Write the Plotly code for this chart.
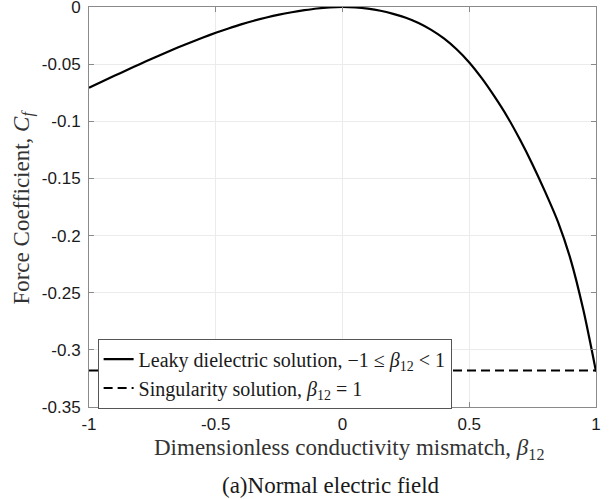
import plotly.graph_objects as go

# Leaky dielectric solution
beta = [-1.0, -0.95, -0.9, -0.85, -0.8, -0.75, -0.7, -0.65, -0.6, -0.55,
        -0.5, -0.45, -0.4, -0.35, -0.3, -0.25, -0.2, -0.15, -0.1, -0.05,
        0.0, 0.05, 0.1, 0.15, 0.2, 0.25, 0.3, 0.35, 0.4, 0.45,
        0.5, 0.55, 0.6, 0.65, 0.7, 0.75, 0.8, 0.85, 0.9, 0.95, 1.0]
cf = [-0.0706, -0.0654, -0.0602, -0.0551, -0.0500, -0.0451, -0.0402, -0.0355,
      -0.0310, -0.0267, -0.0226, -0.0188, -0.0152, -0.0120, -0.0092, -0.0067,
      -0.0046, -0.0028, -0.0013, -0.0004,
      0.0, -0.0004, -0.0015, -0.0033, -0.0060, -0.0094, -0.0140, -0.0200,
      -0.0275, -0.0370, -0.0485, -0.0625, -0.0785, -0.0960, -0.1160, -0.1380,
      -0.1620, -0.1880, -0.2210, -0.2650, -0.3190]

# Singularity solution
sing_beta = [-1.0, 1.0]
sing_cf = [-0.318, -0.318]

xtick_vals = [-1, -0.5, 0, 0.5, 1]
xtick_text = ["-1", "-0.5", "0", "0.5", "1"]
ytick_vals = [0, -0.05, -0.1, -0.15, -0.2, -0.25, -0.3, -0.35]
ytick_text = ["0", "-0.05", "-0.1", "-0.15", "-0.2", "-0.25", "-0.3", "-0.35"]

SERIF = "Liberation Serif"
SANS = "Liberation Sans, Arial, Helvetica"

fig = go.Figure()
fig.add_trace(go.Scatter(
    x=sing_beta, y=sing_cf, mode="lines",
    line=dict(color="black", width=2, dash="9px,5px"),
    name="Singularity solution, <i>β</i><sub>12</sub> = 1",
))
fig.add_trace(go.Scatter(
    x=beta, y=cf, mode="lines",
    line=dict(color="black", width=2.2, shape="spline", smoothing=0.8),
    name="Leaky dielectric solution, −1 ≤ <i>β</i><sub>12</sub> &lt; 1",
))

axis_common = dict(
    showline=True, linecolor="#8a8a8a", linewidth=1, mirror="ticks",
    ticks="inside", ticklen=5, tickcolor="#8a8a8a",
    showgrid=True, gridcolor="#ebebeb", gridwidth=1,
    zeroline=False, automargin=False, ticklabeloverflow="allow",
    tickfont=dict(family=SANS, size=17, color="#1a1a1a"),
)

fig.update_layout(
    width=615, height=499,
    margin=dict(l=89, r=19, t=7, b=92),
    paper_bgcolor="white", plot_bgcolor="white",
    showlegend=True,
    legend=dict(
        x=0.017, y=0.171, xanchor="left", yanchor="top",
        bgcolor="white", bordercolor="#555555", borderwidth=1,
        font=dict(family=SERIF, size=20, color="#1a1a1a"),
        traceorder="reversed",
        tracegroupgap=0,
    ),
    xaxis=dict(
        range=[-1, 1], tickvals=xtick_vals, ticktext=xtick_text,
        ticklabelstandoff=2,
        **axis_common,
    ),
    yaxis=dict(
        range=[-0.35, 0], tickvals=ytick_vals, ticktext=ytick_text,
        ticklabelstandoff=4,
        **axis_common,
    ),
    annotations=[
        dict(text="Dimensionless conductivity mismatch, <i>β</i><sub>12</sub>",
             xref="paper", yref="paper", x=0.512, y=-0.105,
             xanchor="center", yanchor="middle", showarrow=False,
             font=dict(family=SERIF, size=23, color="#333333")),
        dict(text="Force Coefficient, <i>C<sub>f</sub></i>",
             xref="paper", yref="paper", x=-0.131, y=0.5, textangle=-90,
             xanchor="center", yanchor="middle", showarrow=False,
             font=dict(family=SERIF, size=23, color="#333333")),
        dict(text="(a)Normal electric field", xref="paper", yref="paper",
             x=0.477, y=-0.197, xanchor="center", yanchor="middle",
             showarrow=False,
             font=dict(family=SERIF, size=23, color="#1a1a1a")),
    ],
)

fig.write_html("out.html", config={"displayModeBar": False},
               post_script="document.body.style.margin='0';")
